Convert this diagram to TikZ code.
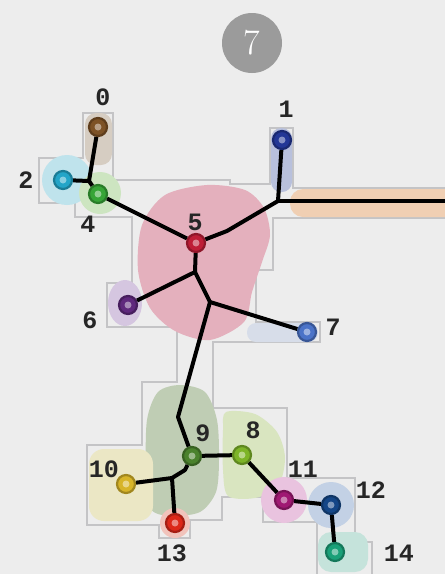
\documentclass[tikz,border=0pt]{standalone}
\usepackage{fontspec}
\usepackage{xcolor}
\usepackage{tikz}
\usetikzlibrary{calc,positioning}
\newfontfamily\labelfont{Liberation Mono}
\definecolor{paper}{RGB}{237,237,237}
\definecolor{frame}{RGB}{196,196,198}
\definecolor{badge}{RGB}{155,155,155}
% dot colours
\definecolor{cBrown}{RGB}{125,82,38}
\definecolor{cNavy}{RGB}{35,55,150}
\definecolor{cCyan}{RGB}{35,165,200}
\definecolor{cGreen}{RGB}{55,165,55}
\definecolor{cCrimson}{RGB}{190,30,55}
\definecolor{cPurple}{RGB}{95,40,125}
\definecolor{cBlue}{RGB}{75,115,200}
\definecolor{cLime}{RGB}{125,180,40}
\definecolor{cDkgreen}{RGB}{75,130,45}
\definecolor{cGold}{RGB}{215,180,40}
\definecolor{cMagenta}{RGB}{160,25,115}
\definecolor{cDeep}{RGB}{20,70,135}
\definecolor{cRed}{RGB}{220,40,25}
\definecolor{cTeal}{RGB}{25,160,120}
% blob colours
\definecolor{bPink}{RGB}{228,176,189}
\definecolor{bBrown}{RGB}{214,205,194}
\definecolor{bCyan}{RGB}{191,227,236}
\definecolor{bGreen}{RGB}{205,229,193}
\definecolor{bNavy}{RGB}{184,192,220}
\definecolor{bOrange}{RGB}{240,207,179}
\definecolor{bPurple}{RGB}{213,198,224}
\definecolor{bBlue}{RGB}{215,221,233}
\definecolor{bDkgreen}{RGB}{191,205,180}
\definecolor{bLime}{RGB}{217,229,192}
\definecolor{bGold}{RGB}{235,231,197}
\definecolor{bMagenta}{RGB}{233,195,223}
\definecolor{bDeep}{RGB}{195,209,229}
\definecolor{bRed}{RGB}{241,195,187}
\definecolor{bTeal}{RGB}{197,227,219}

\begin{document}
\begin{tikzpicture}[x=1pt,y=-1pt,
  dot/.style={circle, inner sep=0pt, minimum size=18pt, line width=2.2pt},
  edge/.style={line width=4pt, line join=round},
  lab/.style={font={\labelfont\bfseries\fontsize{25}{25}\selectfont}, text=black!85, inner sep=0pt}]
\useasboundingbox (0,0) rectangle (445,574);
\fill[paper] (0,0) rectangle (445,574);
\clip (0,0) rectangle (445,574);

% outline of the layout
\draw[frame, line width=2pt]
  (445,218) -- (273,218) -- (273,270) -- (256,270) -- (256,322) -- (320,322) -- (320,342)
  -- (213,342) -- (213,408) -- (287,408) -- (287,478) -- (355,478) -- (355,542)
  -- (372,542) -- (372,580)
  (317,580) -- (317,522) -- (263,522) -- (263,497) -- (222,497) -- (222,520) -- (190,520)
  -- (190,538) -- (159,538) -- (159,525) -- (87,525) -- (87,445) -- (142,445) -- (142,382)
  -- (177,382) -- (177,327) -- (107,327) -- (107,283) -- (132,283) -- (132,217) -- (75,217)
  -- (75,203) -- (39,203) -- (39,158) -- (83,158) -- (83,113) -- (113,113) -- (113,180)
  -- (230,180) -- (230,184) -- (270,184) -- (270,128) -- (293,128) -- (293,188) -- (450,188);

% blobs
\fill[bPink] plot[smooth cycle] coordinates {(207,185) (245,190) (264,208) (270,235) (262,262)
  (252,292) (244,322) (210,340) (175,331) (150,308) (138,270) (142,225) (165,195)};
\fill[bBrown, rounded corners=11pt] (85,113) rectangle (112,165);
\fill[bNavy, rounded corners=10pt] (271,128) rectangle (292,192);
\fill[bOrange, rounded corners=13pt] (290,189) rectangle (470,217);
\fill[bCyan] (67,180) circle (25pt);
\fill[bGreen] (100,193) circle (21pt);
\fill[bPurple] (125,303) ellipse [x radius=17pt, y radius=23pt];
\fill[bBlue, rounded corners=9pt] (247,323) rectangle (318,342);
\fill[bDkgreen] plot[smooth cycle] coordinates {(180,385) (205,392) (217,420) (219,460)
  (216,492) (200,512) (170,516) (150,508) (146,470) (147,420) (158,392)};
\fill[bLime] plot[smooth cycle] coordinates {(226,412) (255,414) (277,432) (285,458)
  (278,487) (255,498) (228,496) (223,470) (223,430)};
\fill[bGold, rounded corners=15pt] (89,449) rectangle (153,521);
\fill[bMagenta] (284,500) circle (23pt);
\fill[bDeep] (331,505) circle (23pt);
\fill[bRed] (175,523) circle (15pt);
\fill[bTeal, rounded corners=13pt] (318,532) rectangle (368,572);

% badge
\node[circle, fill=badge, minimum size=60pt, text=white,
  font=\fontsize{36}{36}\selectfont] (badge) at (252,43) {7};

% nodes
\foreach \n/\x/\y/\c in {0/98/127/cBrown, 1/282/140/cNavy, 2/63/180/cCyan, 4/98/194/cGreen,
  5/196/243/cCrimson, 6/128/305/cPurple, 7/307/332/cBlue, 8/242/455/cLime,
  9/192/456/cDkgreen, 10/126/484/cGold, 11/284/500/cMagenta, 12/331/505/cDeep,
  13/175/523/cRed, 14/335/552/cTeal}{
  \node[dot, fill=\c, draw=\c!75!black] (n\n) at (\x,\y) {};
  \fill[\c!55!white] (n\n.center) circle (3.5pt);
}

% inner points of the tree
\coordinate (j024) at (89,181);
\coordinate (b51) at (227,231);
\coordinate (j1) at (278,201);
\coordinate (eEast) at (450,201);
\coordinate (jA) at (195,272);
\coordinate (jB) at (210,302);
\coordinate (bB9) at (178,417);
\coordinate (b9C) at (185,470);
\coordinate (jC) at (172,478);

\draw[edge] (n2) -- (j024) -- (n0);
\draw[edge] (j024) -- (n4);
\draw[edge] (n4) -- (n5);
\draw[edge] (n5) -- (b51) -- (j1) -- (n1);
\draw[edge] (j1) -- (eEast);
\draw[edge] (n5) -- (jA) -- (n6);
\draw[edge] (jA) -- (jB) -- (n7);
\draw[edge] (jB) -- (bB9) -- (n9);
\draw[edge] (n9) -- (n8);
\draw[edge] (n8) -- (n11);
\draw[edge] (n11) -- (n12);
\draw[edge] (n12) -- (n14);
\draw[edge] (n9) -- (b9C) -- (jC) -- (n10);
\draw[edge] (jC) -- (n13);

% labels
\foreach \n/\x/\y in {0/103/97, 1/286/109, 2/26/180, 4/88/224, 5/195/222, 6/90/320,
  7/333/327, 8/253/430, 9/203/433, 10/104/469, 11/303/469, 12/371/490, 13/172/553, 14/399/553}{
  \node[lab] (t\n) at (\x,\y) {\n};
}
\end{tikzpicture}
\end{document}
